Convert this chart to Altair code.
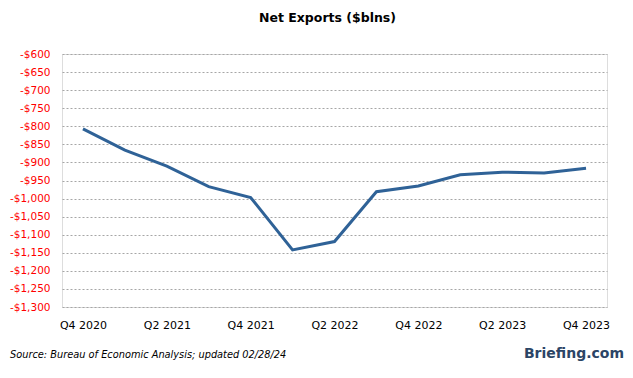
import altair as alt
import pandas as pd

quarters = ["Q4 2020", "Q1 2021", "Q2 2021", "Q3 2021", "Q4 2021", "Q1 2022", "Q2 2022",
            "Q3 2022", "Q4 2022", "Q1 2023", "Q2 2023", "Q3 2023", "Q4 2023"]
net_exports = [-807, -866, -910, -967, -997, -1142, -1119, -981, -965, -934, -927, -929, -916]
shown_labels = ["Q4 2020", "Q2 2021", "Q4 2021", "Q2 2022", "Q4 2022", "Q2 2023", "Q4 2023"]
y_ticks = list(range(-600, -1301, -50))

df = pd.DataFrame({"q": quarters, "v": net_exports})

W, H = 545, 253
FONT = "DejaVu Sans"

line = alt.Chart(df).mark_line(color="#2f6297", strokeWidth=3).encode(
    x=alt.X("q:N", sort=quarters, title=None,
            scale=alt.Scale(type="point", padding=0.5),
            axis=alt.Axis(values=shown_labels, labelAngle=0, domain=False, ticks=False,
                          labelFont=FONT, labelFontSize=11, labelColor="#000000",
                          labelPadding=12, grid=False)),
    y=alt.Y("v:Q", title=None,
            scale=alt.Scale(domain=[-1300, -600], nice=False, zero=False),
            axis=alt.Axis(values=y_ticks, domain=False, ticks=False,
                          labelExpr="'-$' + format(abs(datum.value), ',')",
                          labelFont=FONT, labelFontSize=10.5, labelColor="#ff0000",
                          labelPadding=12, grid=True, gridColor="#a6a6a6",
                          gridDash=[2, 2], gridWidth=1)),
)

source = alt.Chart(pd.DataFrame({"t": ["Source: Bureau of Economic Analysis; updated 02/28/24"]})).mark_text(
    align="left", baseline="middle", font=FONT, fontSize=9.8, fontStyle="italic", color="#000000"
).encode(text="t:N", x=alt.value(-52), y=alt.value(H + 48))

brand = alt.Chart(pd.DataFrame({"t": ["Briefing.com"]})).mark_text(
    align="right", baseline="middle", font=FONT, fontSize=14, fontWeight="bold", color="#2b4566"
).encode(text="t:N", x=alt.value(W + 17), y=alt.value(H + 47))

chart = alt.layer(line, source, brand).properties(
    width=W, height=H,
    title=alt.TitleParams("Net Exports ($blns)", font=FONT, fontSize=12.5, fontWeight="bold",
                          color="#000000", anchor="middle", dx=-7, offset=25),
    padding={"left": 62, "top": 54, "right": 26, "bottom": 71},
    autosize=alt.AutoSizeParams(type="none"),
).configure_view(stroke=None).configure(background="#ffffff")

chart.save("out.html", embed_options={"renderer": "svg", "actions": False})
